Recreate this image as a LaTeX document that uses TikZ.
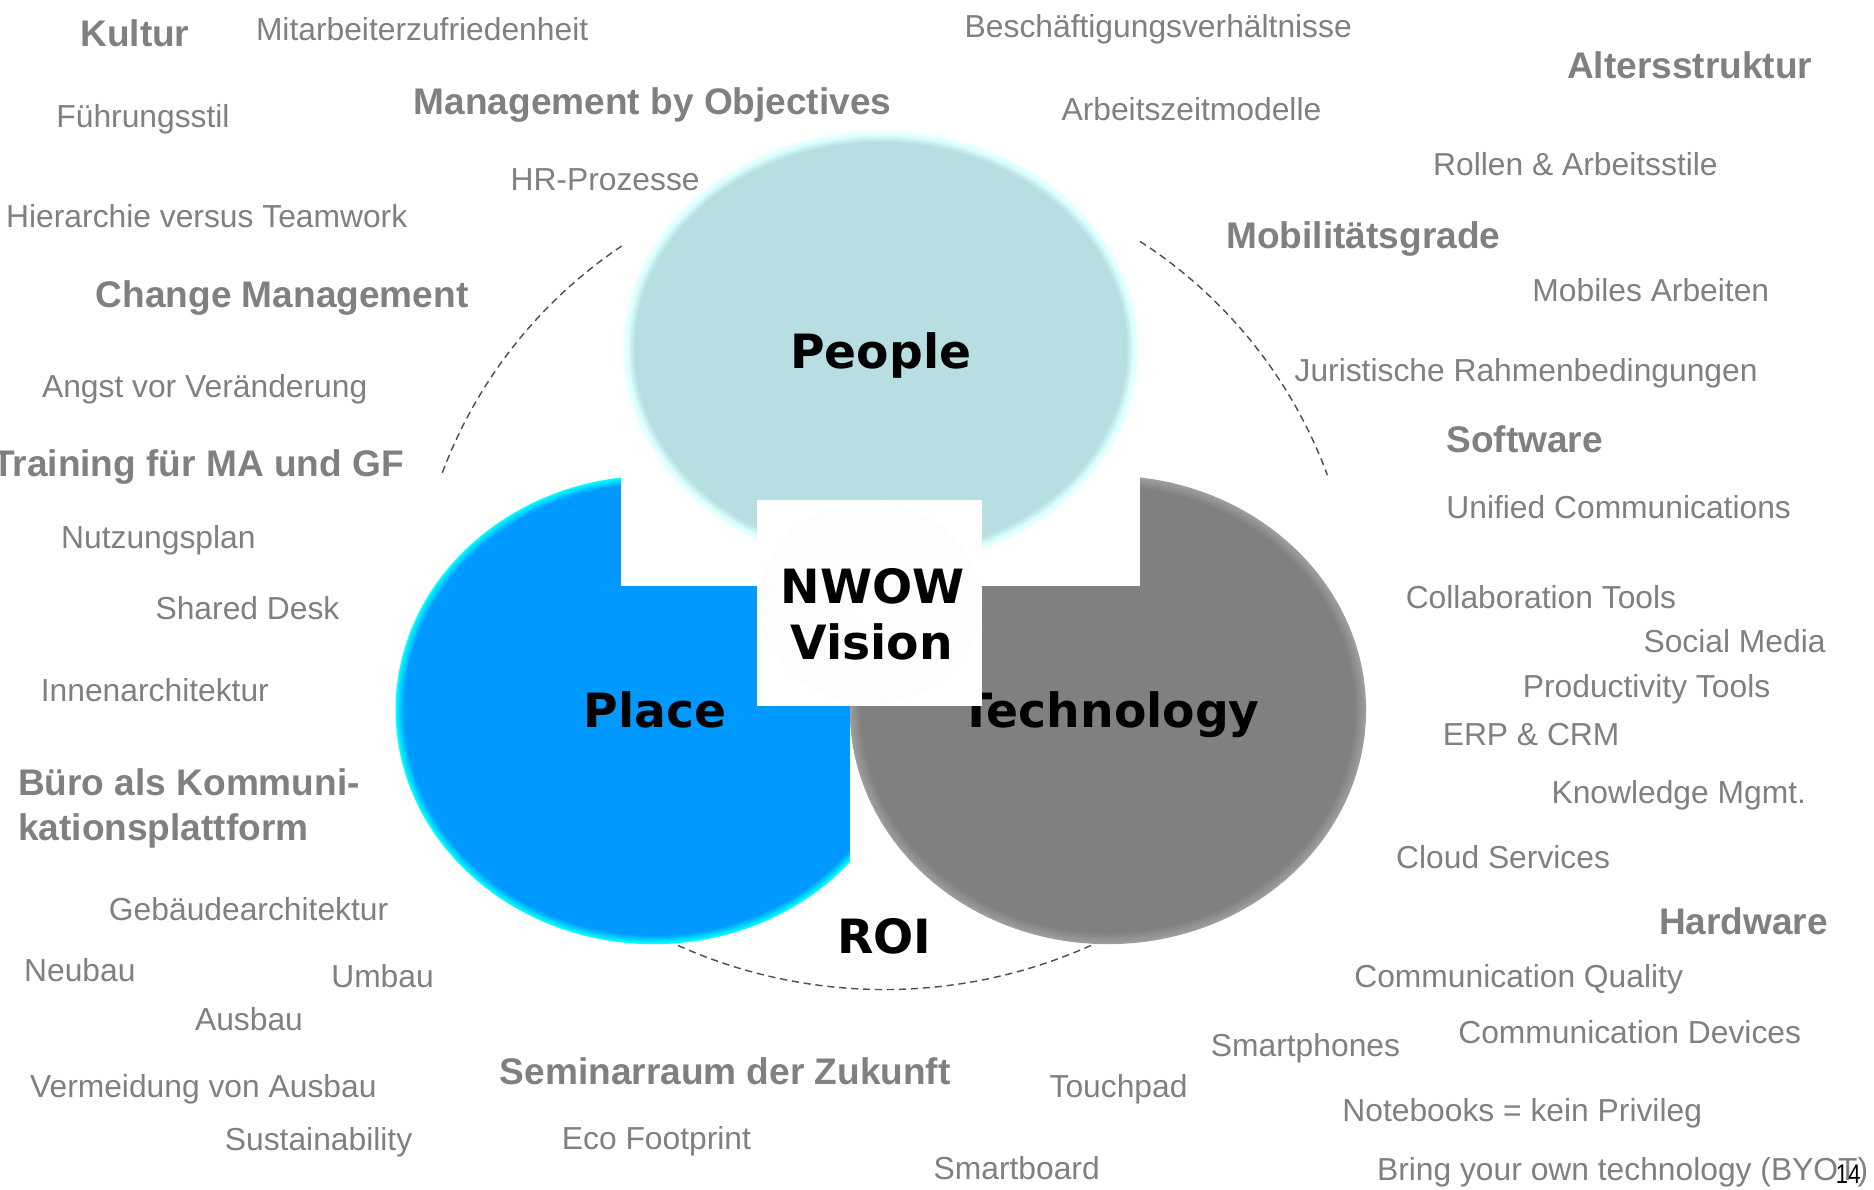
\documentclass[tikz,border=0pt]{standalone}
\usepackage{fontspec}
\setmainfont{Liberation Sans}
\newfontfamily\dvsans{DejaVu Sans}
\definecolor{txtgray}{HTML}{808080}
\definecolor{placefill}{HTML}{0099FF}
\definecolor{placeedge}{HTML}{00FFFF}
\definecolor{peoplefill}{HTML}{B7DEE0}
\definecolor{peopleedge}{HTML}{DCFFFF}
\definecolor{techfill}{HTML}{808080}
\definecolor{techedge}{HTML}{9E9E9E}
\definecolor{arcgray}{HTML}{505050}
\tikzset{
  lbl/.style={anchor=base west, inner sep=0pt, text=txtgray, font=\fontsize{26.6}{32}\selectfont},
  head/.style={anchor=base west, inner sep=0pt, text=txtgray, font=\fontsize{31}{37}\selectfont\bfseries},
  bigl/.style={anchor=base, inner sep=0pt, text=black, font=\dvsans\bfseries\fontsize{39.5}{47}\selectfont},
  dasharc/.style={draw=arcgray, line width=1.2pt, dash pattern=on 6pt off 4pt},
}
\begin{document}
\begin{tikzpicture}[x=1pt,y=-1pt]
\useasboundingbox (0,0) rectangle (1568,995);
\fill[white] (0,0) rectangle (1568,995);

% Place ellipse (clipped on the right)
\begin{scope}
\clip (0,0) rectangle (711,995);
\foreach \i in {0,...,8}{
  \pgfmathtruncatemacro\p{min(100,\i*100/7)}
  \fill[fill=placefill!\p!placeedge] (547,594) ellipse[x radius=216-\i, y radius=196-\i];
}
\end{scope}

% Technology ellipse
\foreach \i in {0,...,10}{
  \pgfmathtruncatemacro\p{min(100,\i*100/9)}
  \fill[fill=techfill!\p!techedge] (927,594) ellipse[x radius=216-\i, y radius=196-\i];
}

% white mask rectangle
\fill[white] (520,380) rectangle (954,490);

% People ellipse
\foreach \i in {0,...,12}{
  \ifnum\i<5
    \pgfmathtruncatemacro\p{10+\i*22}\def\col{peopleedge!\p!white}
  \else
    \pgfmathtruncatemacro\p{min(100,(\i-5)*100/6)}\def\col{peoplefill!\p!peopleedge}
  \fi
  \fill[fill=\col] (737,292) ellipse[x radius=217-\i, y radius=184-\i];
}

% central labels
\node[bigl] (people) at (737,308) {People};
\node[bigl] (place) at (548,609) {Place};
\node[bigl] (tech) at (929,609) {Technology};

% NWOW box
\node[fill=white, inner sep=0pt, minimum width=189pt, minimum height=173pt] (box) at (727.5,504.5) {};
\fill[white, inner color=white, outer color=gray!2] (727.5,504.5) ellipse[x radius=92, y radius=84];
\node[bigl] (nwow) at (730,505) {NWOW};
\node[bigl] (vision) at (729.5,552) {Vision};
\node[bigl] (roi) at (740,798) {ROI};

% dashed arcs
\draw[dasharc] (520.3,205.8) arc[start angle=-123.8, end angle=-159.5, radius=395];
\draw[dasharc] (953.9,202.0) arc[start angle=-57.2, end angle=-20.2, radius=395];
\draw[dasharc] (567.3,791.1) arc[start angle=114.1, end angle=65.4, radius=423];

% headings
\node[head] (kultur) at (67,39) {Kultur};
\node[head] (mbo) at (346,96) {Management by Objectives};
\node[head] (change) at (80,257) {Change Management};
\node[head, anchor=base east] (training) at (338,399) {Training für MA und GF};
\node[head] (buero1) at (15,666) {Büro als Kommuni-};
\node[head] (buero2) at (15,703) {kationsplattform};
\node[head] (seminar) at (418,907) {Seminarraum der Zukunft};
\node[head] (hardware) at (1388,782) {Hardware};
\node[head] (software) at (1210,379) {Software};
\node[head] (mobil) at (1026,208) {Mobilitätsgrade};
\node[head] (alter) at (1311,66) {Altersstruktur};

% labels
\node[lbl] (mz) at (214,34) {Mitarbeiterzufriedenheit};
\node[lbl] (fs) at (47,107) {Führungsstil};
\node[lbl] (hr) at (427,159) {HR-Prozesse};
\node[lbl] (hier) at (5,190) {Hierarchie versus Teamwork};
\node[lbl] (angst) at (35,333) {Angst vor Veränderung};
\node[lbl] (nutz) at (51,459) {Nutzungsplan};
\node[lbl] (shared) at (130,518) {Shared Desk};
\node[lbl] (innen) at (34,587) {Innenarchitektur};
\node[lbl] (geb) at (91,770) {Gebäudearchitektur};
\node[lbl] (neu) at (20,821) {Neubau};
\node[lbl] (um) at (277,826) {Umbau};
\node[lbl] (aus) at (163,862) {Ausbau};
\node[lbl] (verm) at (25,918) {Vermeidung von Ausbau};
\node[lbl] (sust) at (188,963) {Sustainability};
\node[lbl] (eco) at (470,962) {Eco Footprint};
\node[lbl] (smartb) at (781,987) {Smartboard};
\node[lbl] (touch) at (878,918) {Touchpad};
\node[lbl] (smartp) at (1013,884) {Smartphones};
\node[lbl] (cq) at (1133,826) {Communication Quality};
\node[lbl] (cd) at (1220,873) {Communication Devices};
\node[lbl] (nb) at (1123,938) {Notebooks = kein Privileg};
\node[lbl] (byot) at (1152,988) {Bring your own technology (BYOT)};
\node[lbl] (cloud) at (1168,727) {Cloud Services};
\node[lbl] (km) at (1298,672) {Knowledge Mgmt.};
\node[lbl] (erp) at (1207,624) {ERP \& CRM};
\node[lbl] (prod) at (1274,584) {Productivity Tools};
\node[lbl] (social) at (1375,546) {Social Media};
\node[lbl] (collab) at (1176,509) {Collaboration Tools};
\node[lbl] (uc) at (1210,434) {Unified Communications};
\node[lbl] (jur) at (1083,319) {Juristische Rahmenbedingungen};
\node[lbl] (mob) at (1282,252) {Mobiles Arbeiten};
\node[lbl] (rollen) at (1199,147) {Rollen \& Arbeitsstile};
\node[lbl] (azm) at (888,101) {Arbeitszeitmodelle};
\node[lbl] (besch) at (807,31) {Beschäftigungsverhältnisse};

% page number
\node[anchor=base west, inner sep=0pt, text=black, font=\fontsize{20.5}{24}\selectfont, xscale=0.9, yscale=1.1] (pnum) at (1536,990) {14};
\end{tikzpicture}
\end{document}
